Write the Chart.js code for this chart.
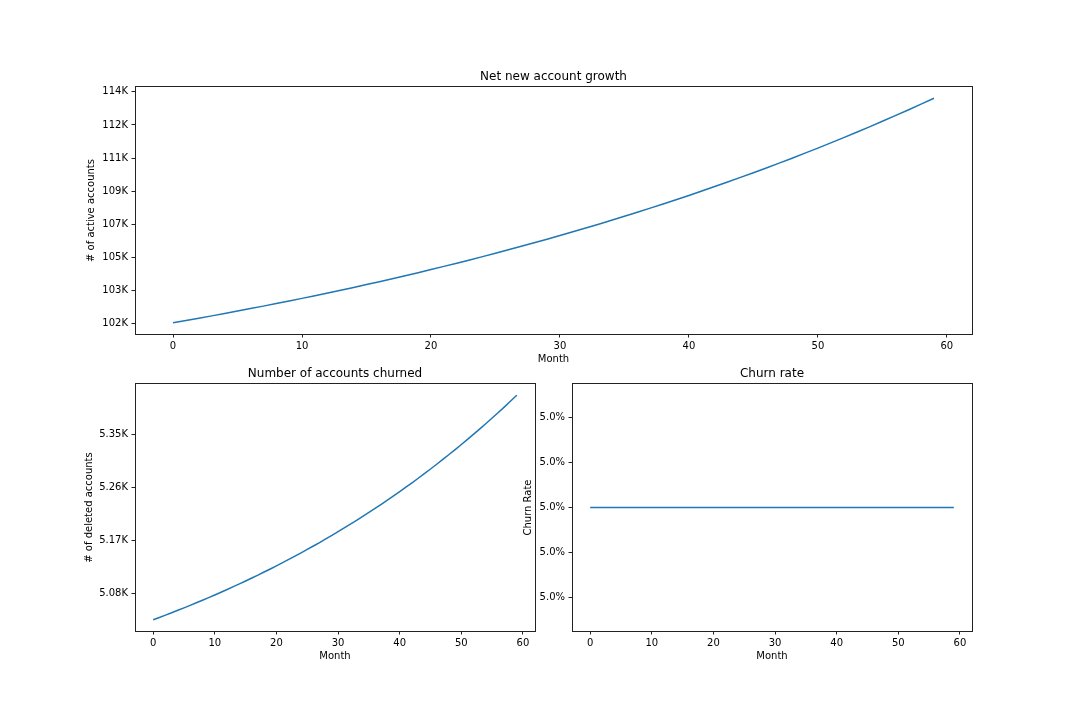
<!DOCTYPE html>
<html>
<head>
<meta charset="utf-8">
<script src="https://cdn.jsdelivr.net/npm/chart.js@4.4.1/dist/chart.umd.min.js"></script>
<style>
  html, body { margin: 0; padding: 0; background: #fff; }
  #wrap { position: relative; width: 1080px; height: 720px; overflow: hidden; background: #fff; }
  canvas { position: absolute; }
</style>
</head>
<body>
<div id="wrap">
  <canvas id="c1" width="1000" height="315" style="left:0px;top:51px;"></canvas>
  <canvas id="c2" width="545" height="345" style="left:0px;top:346px;"></canvas>
  <canvas id="c3" width="520" height="345" style="left:480px;top:346px;"></canvas>
</div>
<script>
// ---------- data ----------
const months = [0,1,2,3,4,5,6,7,8,9,10,11,12,13,14,15,16,17,18,19,20,21,22,23,24,25,26,27,28,29,
  30,31,32,33,34,35,36,37,38,39,40,41,42,43,44,45,46,47,48,49,50,51,52,53,54,55,56,57,58,59];

const activeAccounts = [
  101630, 101753, 101879, 102006, 102136, 102267, 102401, 102537, 102676, 102816,
  102959, 103105, 103253, 103403, 103556, 103711, 103869, 104030, 104193, 104359,
  104528, 104700, 104874, 105052, 105232, 105415, 105602, 105791, 105984, 106180,
  106379, 106582, 106788, 106997, 107210, 107426, 107646, 107870, 108097, 108328,
  108563, 108802, 109045, 109292, 109544, 109799, 110058, 110322, 110591, 110864,
  111141, 111423, 111710, 112001, 112298, 112599, 112905, 113217, 113533, 113855];

const deletedAccounts = [
  5035.0, 5038.9, 5042.9, 5046.9, 5051.1, 5055.2, 5059.5, 5063.8, 5068.2, 5072.6,
  5077.1, 5081.7, 5086.4, 5091.2, 5096.0, 5100.9, 5105.9, 5110.9, 5116.1, 5121.3,
  5126.6, 5132.0, 5137.5, 5143.1, 5148.7, 5154.5, 5160.3, 5166.2, 5172.3, 5178.4,
  5184.6, 5191.0, 5197.4, 5203.9, 5210.6, 5217.3, 5224.2, 5231.2, 5238.2, 5245.4,
  5252.8, 5260.2, 5267.7, 5275.4, 5283.2, 5291.1, 5299.2, 5307.3, 5315.7, 5324.1,
  5332.7, 5341.4, 5350.3, 5359.3, 5368.4, 5377.7, 5387.1, 5396.7, 5406.5, 5416.4];

const churnRate = [
  0.05, 0.05, 0.05, 0.05, 0.05, 0.05, 0.05, 0.05, 0.05, 0.05,
  0.05, 0.05, 0.05, 0.05, 0.05, 0.05, 0.05, 0.05, 0.05, 0.05,
  0.05, 0.05, 0.05, 0.05, 0.05, 0.05, 0.05, 0.05, 0.05, 0.05,
  0.05, 0.05, 0.05, 0.05, 0.05, 0.05, 0.05, 0.05, 0.05, 0.05,
  0.05, 0.05, 0.05, 0.05, 0.05, 0.05, 0.05, 0.05, 0.05, 0.05,
  0.05, 0.05, 0.05, 0.05, 0.05, 0.05, 0.05, 0.05, 0.05, 0.05];

// tick values
const monthTicks = [0, 10, 20, 30, 40, 50, 60];
const activeTicks = [101600, 103400, 105200, 107000, 108800, 110600, 112400, 114200];
const deletedTicks = [5080, 5170, 5260, 5350];
const rateTicks = [0.04996, 0.04998, 0.05, 0.05002, 0.05004];

// ---------- helpers ----------
Chart.defaults.font.family = "'DejaVu Sans', sans-serif";
Chart.defaults.color = '#000';

const LINE = '#1f77b4';

const framePlugin = {
  id: 'frame',
  afterDraw(chart) {
    const {ctx, chartArea} = chart;
    const l = Math.round(chartArea.left), t = Math.round(chartArea.top);
    const r = Math.round(chartArea.right), b = Math.round(chartArea.bottom);
    ctx.save();
    ctx.strokeStyle = '#222';
    ctx.lineWidth = 1;
    ctx.strokeRect(l + 0.5, t - 0.5, r - l, b - t + 1);
    ctx.restore();
  }
};

function padRange(arr) {
  const lo = Math.min(...arr), hi = Math.max(...arr);
  const m = (hi - lo) * 0.05;
  return [lo - m, hi + m];
}

function makeChart(id, opts) {
  const xr = padRange(months);
  const pts = months.map((m, i) => ({x: m, y: opts.values[i]}));
  return new Chart(document.getElementById(id), {
    type: 'line',
    data: { datasets: [{ data: pts, borderColor: LINE, borderWidth: 1.5, pointRadius: 0, fill: false, tension: 0 }] },
    plugins: [framePlugin],
    options: {
      responsive: false,
      animation: false,
      devicePixelRatio: 1,
      layout: { padding: { left: 0, right: opts.padRight, top: 0, bottom: 0 } },
      plugins: {
        legend: { display: false },
        tooltip: { enabled: false },
        title: {
          display: true, text: opts.title, color: '#000', fullSize: false,
          font: { size: 12, weight: 'normal' },
          padding: { top: opts.titleTop, bottom: opts.titleBottom }
        }
      },
      scales: {
        x: {
          type: 'linear', min: xr[0], max: xr[1],
          afterBuildTicks: s => { s.ticks = monthTicks.map(v => ({value: v})); },
          afterFit: s => { s.height = opts.xHeight; },
          ticks: { color: '#000', font: { size: 10 }, padding: 3, maxRotation: 0, autoSkip: false,
                   callback: v => String(v) },
          grid: { drawOnChartArea: false, drawTicks: true, tickLength: 3.5, tickColor: '#222', tickWidth: 1 },
          border: { display: false },
          title: { display: true, text: 'Month', color: '#000', font: { size: 10 },
                   padding: { top: 0, bottom: opts.xTitlePad } }
        },
        y: {
          type: 'linear', min: opts.yRange[0], max: opts.yRange[1],
          afterBuildTicks: s => { s.ticks = opts.yTicks.map(v => ({value: v})); },
          afterFit: s => { s.width = opts.yWidth; },
          ticks: { color: '#000', font: { size: 10 }, padding: 3.5, autoSkip: false, callback: opts.fmt },
          grid: { drawOnChartArea: false, drawTicks: true, tickLength: 3.5, tickColor: '#222', tickWidth: 1 },
          border: { display: false },
          title: { display: true, text: opts.yTitle, color: '#000', font: { size: 10 },
                   padding: { top: opts.yTitlePad, bottom: 0 } }
        }
      }
    }
  });
}

const rateLo = churnRate[0] * 0.999, rateHi = churnRate[0] * 1.001;
const rateM = (rateHi - rateLo) * 0.05;

makeChart('c1', {
  values: activeAccounts, title: 'Net new account growth', yTitle: '# of active accounts',
  yRange: padRange(activeAccounts), yTicks: activeTicks,
  fmt: v => Math.round(v / 1000) + 'K',
  padRight: 28, yWidth: 135, xHeight: 32, xTitlePad: 1, yTitlePad: 85.3,
  titleTop: 18.3, titleBottom: 3.3
});

makeChart('c2', {
  values: deletedAccounts, title: 'Number of accounts churned', yTitle: '# of deleted accounts',
  yRange: padRange(deletedAccounts), yTicks: deletedTicks,
  fmt: v => (v / 1000).toFixed(2) + 'K',
  padRight: 10, yWidth: 135, xHeight: 60, xTitlePad: 29, yTitlePad: 83,
  titleTop: 20.3, titleBottom: 3.3
});

makeChart('c3', {
  values: churnRate, title: 'Churn rate', yTitle: 'Churn Rate',
  yRange: [rateLo - rateM, rateHi + rateM], yTicks: rateTicks,
  fmt: v => (v * 100).toFixed(1) + '%',
  padRight: 28, yWidth: 92, xHeight: 60, xTitlePad: 29, yTitlePad: 42.8,
  titleTop: 20.3, titleBottom: 3.3
});
</script>
</body>
</html>
